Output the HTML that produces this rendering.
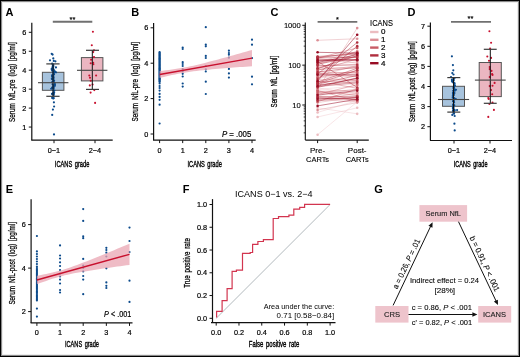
<!DOCTYPE html>
<html><head><meta charset="utf-8"><style>
html,body{margin:0;padding:0;background:#fff;}
body{width:520px;height:357px;overflow:hidden;position:relative;font-family:"Liberation Sans",sans-serif;}
.frame{position:absolute;left:0;top:0;width:520px;height:357px;box-sizing:border-box;border-style:solid;border-color:#000;border-width:1px 2px 2px 1px;}
svg{position:absolute;left:0;top:0;will-change:transform;}
.h{stroke:#000;stroke-width:0.2px;}
.x{word-spacing:1.2px;}
.t{stroke:#000;stroke-width:0.26px;word-spacing:1.6px;}
.g{stroke:#222;stroke-width:0.12px;}
.m{stroke:#000;stroke-width:0.12px;}
.u{stroke:#000;stroke-width:0.38px;word-spacing:1.4px;}
</style></head><body>
<svg width="520" height="357" viewBox="0 0 520 357" font-family="Liberation Sans, sans-serif"><text x="5.60" y="15.80" font-size="11" font-weight="bold">A</text>
<line x1="31.80" y1="22.80" x2="31.80" y2="140.20" stroke="#111" stroke-width="1.2"/>
<line x1="28.80" y1="127.05" x2="31.80" y2="127.05" stroke="#111" stroke-width="1"/>
<text x="26.40" y="129.65" font-size="7.3" class="h" text-anchor="end">1</text>
<line x1="28.80" y1="108.10" x2="31.80" y2="108.10" stroke="#111" stroke-width="1"/>
<text x="26.40" y="110.70" font-size="7.3" class="h" text-anchor="end">2</text>
<line x1="28.80" y1="89.15" x2="31.80" y2="89.15" stroke="#111" stroke-width="1"/>
<text x="26.40" y="91.75" font-size="7.3" class="h" text-anchor="end">3</text>
<line x1="28.80" y1="70.20" x2="31.80" y2="70.20" stroke="#111" stroke-width="1"/>
<text x="26.40" y="72.80" font-size="7.3" class="h" text-anchor="end">4</text>
<line x1="28.80" y1="51.25" x2="31.80" y2="51.25" stroke="#111" stroke-width="1"/>
<text x="26.40" y="53.85" font-size="7.3" class="h" text-anchor="end">5</text>
<line x1="28.80" y1="32.30" x2="31.80" y2="32.30" stroke="#111" stroke-width="1"/>
<text x="26.40" y="34.90" font-size="7.3" class="h" text-anchor="end">6</text>
<line x1="31.30" y1="140.20" x2="112.70" y2="140.20" stroke="#111" stroke-width="1.2"/>
<line x1="54.00" y1="140.20" x2="54.00" y2="143.20" stroke="#111" stroke-width="1"/>
<text x="54.00" y="152.70" font-size="7.3" class="h" text-anchor="middle">0−1</text>
<line x1="95.00" y1="140.20" x2="95.00" y2="143.20" stroke="#111" stroke-width="1"/>
<text x="95.00" y="152.70" font-size="7.3" class="h" text-anchor="middle">2−4</text>
<text x="14.70" y="82.05" font-size="8.4" text-anchor="middle" textLength="79.7" lengthAdjust="spacingAndGlyphs" transform="rotate(-90 14.70 82.05)" class="t">Serum NfL-pre (log) [pg/ml]</text>
<text x="72.10" y="166.50" font-size="8.8" text-anchor="middle" textLength="34.6" lengthAdjust="spacingAndGlyphs" class="u">ICANS grade</text>
<line x1="52.80" y1="21.80" x2="92.30" y2="21.80" stroke="#707070" stroke-width="1.9"/>
<text x="72.50" y="21.60" font-size="7.4" class="h" text-anchor="middle">**</text>
<rect x="42.40" y="72.30" width="21.50" height="18.00" fill="#a7c3dd" stroke="#555" stroke-width="1"/>
<circle cx="51.70" cy="53.80" r="1.1" fill="#0b4a8b"/>
<circle cx="52.60" cy="54.60" r="1.1" fill="#0b4a8b"/>
<circle cx="53.30" cy="58.40" r="1.1" fill="#0b4a8b"/>
<circle cx="50.00" cy="60.30" r="1.1" fill="#0b4a8b"/>
<circle cx="53.80" cy="60.90" r="1.1" fill="#0b4a8b"/>
<circle cx="55.40" cy="61.30" r="1.1" fill="#0b4a8b"/>
<circle cx="53.30" cy="64.70" r="1.1" fill="#0b4a8b"/>
<circle cx="52.50" cy="67.20" r="1.1" fill="#0b4a8b"/>
<circle cx="51.80" cy="69.70" r="1.1" fill="#0b4a8b"/>
<circle cx="54.60" cy="71.40" r="1.1" fill="#0b4a8b"/>
<circle cx="56.00" cy="72.30" r="1.1" fill="#0b4a8b"/>
<circle cx="53.30" cy="98.40" r="1.1" fill="#0b4a8b"/>
<circle cx="53.90" cy="102.30" r="1.1" fill="#0b4a8b"/>
<circle cx="54.10" cy="106.50" r="1.1" fill="#0b4a8b"/>
<circle cx="52.90" cy="109.60" r="1.1" fill="#0b4a8b"/>
<circle cx="52.20" cy="114.90" r="1.1" fill="#0b4a8b"/>
<circle cx="54.00" cy="134.40" r="1.1" fill="#0b4a8b"/>
<circle cx="52.17" cy="63.48" r="1.1" fill="#0b4a8b"/>
<circle cx="52.76" cy="64.90" r="1.1" fill="#0b4a8b"/>
<circle cx="53.13" cy="65.64" r="1.1" fill="#0b4a8b"/>
<circle cx="53.06" cy="66.76" r="1.1" fill="#0b4a8b"/>
<circle cx="53.29" cy="66.29" r="1.1" fill="#0b4a8b"/>
<circle cx="55.95" cy="67.41" r="1.1" fill="#0b4a8b"/>
<circle cx="51.73" cy="68.84" r="1.1" fill="#0b4a8b"/>
<circle cx="53.19" cy="68.16" r="1.1" fill="#0b4a8b"/>
<circle cx="53.74" cy="69.82" r="1.1" fill="#0b4a8b"/>
<circle cx="52.19" cy="70.73" r="1.1" fill="#0b4a8b"/>
<circle cx="54.40" cy="71.28" r="1.1" fill="#0b4a8b"/>
<circle cx="53.59" cy="71.81" r="1.1" fill="#0b4a8b"/>
<circle cx="54.77" cy="71.93" r="1.1" fill="#0b4a8b"/>
<circle cx="53.35" cy="72.97" r="1.1" fill="#0b4a8b"/>
<circle cx="54.03" cy="74.15" r="1.1" fill="#0b4a8b"/>
<circle cx="52.02" cy="75.25" r="1.1" fill="#0b4a8b"/>
<circle cx="53.31" cy="74.89" r="1.1" fill="#0b4a8b"/>
<circle cx="52.07" cy="76.67" r="1.1" fill="#0b4a8b"/>
<circle cx="53.40" cy="77.25" r="1.1" fill="#0b4a8b"/>
<circle cx="53.28" cy="76.62" r="1.1" fill="#0b4a8b"/>
<circle cx="51.84" cy="78.81" r="1.1" fill="#0b4a8b"/>
<circle cx="53.49" cy="78.17" r="1.1" fill="#0b4a8b"/>
<circle cx="52.37" cy="79.28" r="1.1" fill="#0b4a8b"/>
<circle cx="53.55" cy="80.13" r="1.1" fill="#0b4a8b"/>
<circle cx="54.12" cy="80.82" r="1.1" fill="#0b4a8b"/>
<circle cx="52.23" cy="82.20" r="1.1" fill="#0b4a8b"/>
<circle cx="54.34" cy="82.75" r="1.1" fill="#0b4a8b"/>
<circle cx="52.92" cy="82.06" r="1.1" fill="#0b4a8b"/>
<circle cx="54.90" cy="84.15" r="1.1" fill="#0b4a8b"/>
<circle cx="52.57" cy="84.26" r="1.1" fill="#0b4a8b"/>
<circle cx="53.41" cy="85.24" r="1.1" fill="#0b4a8b"/>
<circle cx="54.65" cy="85.66" r="1.1" fill="#0b4a8b"/>
<circle cx="54.63" cy="85.77" r="1.1" fill="#0b4a8b"/>
<circle cx="53.69" cy="87.88" r="1.1" fill="#0b4a8b"/>
<circle cx="53.29" cy="86.77" r="1.1" fill="#0b4a8b"/>
<circle cx="52.12" cy="87.59" r="1.1" fill="#0b4a8b"/>
<circle cx="53.22" cy="88.57" r="1.1" fill="#0b4a8b"/>
<circle cx="51.19" cy="88.76" r="1.1" fill="#0b4a8b"/>
<circle cx="54.38" cy="90.60" r="1.1" fill="#0b4a8b"/>
<circle cx="53.40" cy="90.72" r="1.1" fill="#0b4a8b"/>
<circle cx="54.06" cy="92.52" r="1.1" fill="#0b4a8b"/>
<circle cx="52.87" cy="93.45" r="1.1" fill="#0b4a8b"/>
<circle cx="54.08" cy="92.76" r="1.1" fill="#0b4a8b"/>
<circle cx="53.57" cy="92.90" r="1.1" fill="#0b4a8b"/>
<circle cx="51.97" cy="93.93" r="1.1" fill="#0b4a8b"/>
<circle cx="53.68" cy="94.54" r="1.1" fill="#0b4a8b"/>
<circle cx="53.53" cy="95.00" r="1.1" fill="#0b4a8b"/>
<circle cx="52.42" cy="97.53" r="1.1" fill="#0b4a8b"/>
<circle cx="52.28" cy="98.10" r="1.1" fill="#0b4a8b"/>
<circle cx="53.69" cy="98.04" r="1.1" fill="#0b4a8b"/>
<line x1="53.00" y1="63.90" x2="53.00" y2="96.30" stroke="#111" stroke-width="1"/>
<line x1="46.30" y1="63.90" x2="59.60" y2="63.90" stroke="#3a3a3a" stroke-width="1.2"/>
<line x1="46.30" y1="96.30" x2="59.60" y2="96.30" stroke="#3a3a3a" stroke-width="1.2"/>
<line x1="38.00" y1="82.70" x2="68.40" y2="82.70" stroke="#444" stroke-width="1.1"/>
<rect x="81.40" y="57.60" width="21.50" height="23.30" fill="#ebb6c1" stroke="#555" stroke-width="1"/>
<circle cx="92.90" cy="31.80" r="1.05" fill="#c8102e"/>
<circle cx="91.80" cy="45.30" r="1.05" fill="#c8102e"/>
<circle cx="94.00" cy="50.20" r="1.05" fill="#c8102e"/>
<circle cx="93.20" cy="52.10" r="1.05" fill="#c8102e"/>
<circle cx="94.00" cy="57.10" r="1.05" fill="#c8102e"/>
<circle cx="91.10" cy="59.80" r="1.05" fill="#c8102e"/>
<circle cx="93.20" cy="62.70" r="1.05" fill="#c8102e"/>
<circle cx="90.70" cy="63.20" r="1.05" fill="#c8102e"/>
<circle cx="93.40" cy="64.30" r="1.05" fill="#c8102e"/>
<circle cx="89.30" cy="75.50" r="1.05" fill="#c8102e"/>
<circle cx="96.10" cy="75.50" r="1.05" fill="#c8102e"/>
<circle cx="90.00" cy="77.80" r="1.05" fill="#c8102e"/>
<circle cx="90.70" cy="80.70" r="1.05" fill="#c8102e"/>
<circle cx="92.60" cy="84.50" r="1.05" fill="#c8102e"/>
<circle cx="89.80" cy="85.40" r="1.05" fill="#c8102e"/>
<circle cx="94.30" cy="90.10" r="1.05" fill="#c8102e"/>
<circle cx="90.60" cy="92.60" r="1.05" fill="#c8102e"/>
<circle cx="95.10" cy="102.90" r="1.05" fill="#c8102e"/>
<line x1="92.30" y1="50.30" x2="92.30" y2="89.40" stroke="#111" stroke-width="1"/>
<line x1="86.00" y1="50.30" x2="99.00" y2="50.30" stroke="#3a3a3a" stroke-width="1.2"/>
<line x1="86.00" y1="89.40" x2="99.00" y2="89.40" stroke="#3a3a3a" stroke-width="1.2"/>
<line x1="77.00" y1="70.30" x2="107.40" y2="70.30" stroke="#444" stroke-width="1.1"/>
<text x="131.30" y="15.80" font-size="11" font-weight="bold">B</text>
<line x1="153.60" y1="23.10" x2="153.60" y2="140.10" stroke="#111" stroke-width="1.2"/>
<line x1="150.60" y1="134.00" x2="153.60" y2="134.00" stroke="#111" stroke-width="1"/>
<text x="148.20" y="136.60" font-size="7.3" class="h" text-anchor="end">0</text>
<line x1="150.60" y1="98.60" x2="153.60" y2="98.60" stroke="#111" stroke-width="1"/>
<text x="148.20" y="101.20" font-size="7.3" class="h" text-anchor="end">2</text>
<line x1="150.60" y1="63.20" x2="153.60" y2="63.20" stroke="#111" stroke-width="1"/>
<text x="148.20" y="65.80" font-size="7.3" class="h" text-anchor="end">4</text>
<line x1="150.60" y1="27.80" x2="153.60" y2="27.80" stroke="#111" stroke-width="1"/>
<text x="148.20" y="30.40" font-size="7.3" class="h" text-anchor="end">6</text>
<line x1="153.00" y1="140.10" x2="255.70" y2="140.10" stroke="#111" stroke-width="1.2"/>
<line x1="159.60" y1="140.10" x2="159.60" y2="143.10" stroke="#111" stroke-width="1"/>
<text x="159.60" y="152.70" font-size="7.3" class="h" text-anchor="middle">0</text>
<line x1="182.70" y1="140.10" x2="182.70" y2="143.10" stroke="#111" stroke-width="1"/>
<text x="182.70" y="152.70" font-size="7.3" class="h" text-anchor="middle">1</text>
<line x1="205.80" y1="140.10" x2="205.80" y2="143.10" stroke="#111" stroke-width="1"/>
<text x="205.80" y="152.70" font-size="7.3" class="h" text-anchor="middle">2</text>
<line x1="228.90" y1="140.10" x2="228.90" y2="143.10" stroke="#111" stroke-width="1"/>
<text x="228.90" y="152.70" font-size="7.3" class="h" text-anchor="middle">3</text>
<line x1="252.00" y1="140.10" x2="252.00" y2="143.10" stroke="#111" stroke-width="1"/>
<text x="252.00" y="152.70" font-size="7.3" class="h" text-anchor="middle">4</text>
<text x="138.10" y="81.65" font-size="8.4" text-anchor="middle" textLength="79.5" lengthAdjust="spacingAndGlyphs" transform="rotate(-90 138.10 81.65)" class="t">Serum NfL-pre (log) [pg/ml]</text>
<text x="204.65" y="166.50" font-size="8.8" text-anchor="middle" textLength="34.3" lengthAdjust="spacingAndGlyphs" class="u">ICANS grade</text>
<text x="251.30" y="136.70" font-size="8.3" class="h" text-anchor="end" textLength="29.4" lengthAdjust="spacingAndGlyphs"><tspan font-style="italic">P</tspan> = .005</text>
<circle cx="159.60" cy="52.00" r="1.1" fill="#0b4a8b"/>
<circle cx="159.60" cy="52.77" r="1.1" fill="#0b4a8b"/>
<circle cx="159.60" cy="53.54" r="1.1" fill="#0b4a8b"/>
<circle cx="159.60" cy="54.31" r="1.1" fill="#0b4a8b"/>
<circle cx="159.60" cy="55.08" r="1.1" fill="#0b4a8b"/>
<circle cx="159.60" cy="55.85" r="1.1" fill="#0b4a8b"/>
<circle cx="159.60" cy="56.62" r="1.1" fill="#0b4a8b"/>
<circle cx="159.60" cy="57.38" r="1.1" fill="#0b4a8b"/>
<circle cx="159.60" cy="58.15" r="1.1" fill="#0b4a8b"/>
<circle cx="159.60" cy="58.92" r="1.1" fill="#0b4a8b"/>
<circle cx="159.60" cy="59.69" r="1.1" fill="#0b4a8b"/>
<circle cx="159.60" cy="60.46" r="1.1" fill="#0b4a8b"/>
<circle cx="159.60" cy="61.23" r="1.1" fill="#0b4a8b"/>
<circle cx="159.60" cy="62.00" r="1.1" fill="#0b4a8b"/>
<circle cx="159.60" cy="62.77" r="1.1" fill="#0b4a8b"/>
<circle cx="159.60" cy="63.54" r="1.1" fill="#0b4a8b"/>
<circle cx="159.60" cy="64.31" r="1.1" fill="#0b4a8b"/>
<circle cx="159.60" cy="65.08" r="1.1" fill="#0b4a8b"/>
<circle cx="159.60" cy="65.85" r="1.1" fill="#0b4a8b"/>
<circle cx="159.60" cy="66.62" r="1.1" fill="#0b4a8b"/>
<circle cx="159.60" cy="67.38" r="1.1" fill="#0b4a8b"/>
<circle cx="159.60" cy="68.15" r="1.1" fill="#0b4a8b"/>
<circle cx="159.60" cy="68.92" r="1.1" fill="#0b4a8b"/>
<circle cx="159.60" cy="69.69" r="1.1" fill="#0b4a8b"/>
<circle cx="159.60" cy="70.46" r="1.1" fill="#0b4a8b"/>
<circle cx="159.60" cy="71.23" r="1.1" fill="#0b4a8b"/>
<circle cx="159.60" cy="72.00" r="1.1" fill="#0b4a8b"/>
<circle cx="159.60" cy="72.77" r="1.1" fill="#0b4a8b"/>
<circle cx="159.60" cy="73.54" r="1.1" fill="#0b4a8b"/>
<circle cx="159.60" cy="74.31" r="1.1" fill="#0b4a8b"/>
<circle cx="159.60" cy="75.08" r="1.1" fill="#0b4a8b"/>
<circle cx="159.60" cy="75.85" r="1.1" fill="#0b4a8b"/>
<circle cx="159.60" cy="76.62" r="1.1" fill="#0b4a8b"/>
<circle cx="159.60" cy="77.38" r="1.1" fill="#0b4a8b"/>
<circle cx="159.60" cy="78.15" r="1.1" fill="#0b4a8b"/>
<circle cx="159.60" cy="78.92" r="1.1" fill="#0b4a8b"/>
<circle cx="159.60" cy="79.69" r="1.1" fill="#0b4a8b"/>
<circle cx="159.60" cy="80.46" r="1.1" fill="#0b4a8b"/>
<circle cx="159.60" cy="81.23" r="1.1" fill="#0b4a8b"/>
<circle cx="159.60" cy="82.00" r="1.1" fill="#0b4a8b"/>
<circle cx="159.60" cy="83.50" r="1.1" fill="#0b4a8b"/>
<circle cx="159.60" cy="86.00" r="1.1" fill="#0b4a8b"/>
<circle cx="159.60" cy="88.00" r="1.1" fill="#0b4a8b"/>
<circle cx="159.60" cy="90.60" r="1.1" fill="#0b4a8b"/>
<circle cx="159.60" cy="93.90" r="1.1" fill="#0b4a8b"/>
<circle cx="159.60" cy="96.90" r="1.1" fill="#0b4a8b"/>
<circle cx="159.60" cy="99.80" r="1.1" fill="#0b4a8b"/>
<circle cx="159.60" cy="104.70" r="1.1" fill="#0b4a8b"/>
<circle cx="159.60" cy="123.50" r="1.1" fill="#0b4a8b"/>
<circle cx="182.70" cy="47.50" r="1.1" fill="#0b4a8b"/>
<circle cx="182.70" cy="49.00" r="1.1" fill="#0b4a8b"/>
<circle cx="182.70" cy="62.20" r="1.1" fill="#0b4a8b"/>
<circle cx="182.70" cy="64.00" r="1.1" fill="#0b4a8b"/>
<circle cx="182.70" cy="66.00" r="1.1" fill="#0b4a8b"/>
<circle cx="182.70" cy="69.00" r="1.1" fill="#0b4a8b"/>
<circle cx="182.70" cy="71.50" r="1.1" fill="#0b4a8b"/>
<circle cx="182.70" cy="73.80" r="1.1" fill="#0b4a8b"/>
<circle cx="182.70" cy="76.50" r="1.1" fill="#0b4a8b"/>
<circle cx="182.70" cy="83.50" r="1.1" fill="#0b4a8b"/>
<circle cx="182.70" cy="86.60" r="1.1" fill="#0b4a8b"/>
<circle cx="205.80" cy="27.20" r="1.1" fill="#0b4a8b"/>
<circle cx="205.80" cy="44.70" r="1.1" fill="#0b4a8b"/>
<circle cx="205.80" cy="46.30" r="1.1" fill="#0b4a8b"/>
<circle cx="205.80" cy="55.90" r="1.1" fill="#0b4a8b"/>
<circle cx="205.80" cy="58.00" r="1.1" fill="#0b4a8b"/>
<circle cx="205.80" cy="66.00" r="1.1" fill="#0b4a8b"/>
<circle cx="205.80" cy="69.30" r="1.1" fill="#0b4a8b"/>
<circle cx="205.80" cy="71.50" r="1.1" fill="#0b4a8b"/>
<circle cx="205.80" cy="81.70" r="1.1" fill="#0b4a8b"/>
<circle cx="205.80" cy="94.00" r="1.1" fill="#0b4a8b"/>
<circle cx="228.90" cy="50.70" r="1.1" fill="#0b4a8b"/>
<circle cx="228.90" cy="53.00" r="1.1" fill="#0b4a8b"/>
<circle cx="228.90" cy="54.70" r="1.1" fill="#0b4a8b"/>
<circle cx="228.90" cy="57.70" r="1.1" fill="#0b4a8b"/>
<circle cx="228.90" cy="68.90" r="1.1" fill="#0b4a8b"/>
<circle cx="228.90" cy="73.40" r="1.1" fill="#0b4a8b"/>
<circle cx="228.90" cy="77.60" r="1.1" fill="#0b4a8b"/>
<circle cx="252.00" cy="39.70" r="1.1" fill="#0b4a8b"/>
<circle cx="252.00" cy="44.70" r="1.1" fill="#0b4a8b"/>
<circle cx="252.00" cy="58.10" r="1.1" fill="#0b4a8b"/>
<circle cx="252.00" cy="76.70" r="1.1" fill="#0b4a8b"/>
<circle cx="252.00" cy="84.30" r="1.1" fill="#0b4a8b"/>
<path d="M159.60,71.10 L162.68,70.73 L165.76,70.35 L168.84,69.95 L171.92,69.52 L175.00,69.07 L178.08,68.58 L181.16,68.07 L184.24,67.52 L187.32,66.93 L190.40,66.30 L193.48,65.63 L196.56,64.92 L199.64,64.19 L202.72,63.43 L205.80,62.65 L208.88,61.86 L211.96,61.05 L215.04,60.24 L218.12,59.41 L221.20,58.57 L224.28,57.73 L227.36,56.89 L230.44,56.04 L233.52,55.18 L236.60,54.32 L239.68,53.46 L242.76,52.60 L245.84,51.74 L248.92,50.87 L252.00,50.00 L252.00,66.20 L248.92,66.42 L245.84,66.65 L242.76,66.88 L239.68,67.11 L236.60,67.34 L233.52,67.58 L230.44,67.82 L227.36,68.06 L224.28,68.31 L221.20,68.56 L218.12,68.82 L215.04,69.08 L211.96,69.36 L208.88,69.65 L205.80,69.95 L202.72,70.26 L199.64,70.60 L196.56,70.96 L193.48,71.35 L190.40,71.77 L187.32,72.23 L184.24,72.73 L181.16,73.28 L178.08,73.86 L175.00,74.47 L171.92,75.11 L168.84,75.77 L165.76,76.46 L162.68,77.17 L159.60,77.90 Z" fill="#e9a6b3" fill-opacity="0.75"/>
<line x1="159.60" y1="74.50" x2="252.00" y2="58.10" stroke="#c8102e" stroke-width="1.4"/>
<text x="270.50" y="15.80" font-size="11" font-weight="bold">C</text>
<line x1="305.30" y1="22.40" x2="305.30" y2="140.10" stroke="#111" stroke-width="1.1"/>
<line x1="303.70" y1="132.85" x2="305.30" y2="132.85" stroke="#111" stroke-width="0.8"/>
<line x1="303.70" y1="125.84" x2="305.30" y2="125.84" stroke="#111" stroke-width="0.8"/>
<line x1="303.70" y1="120.86" x2="305.30" y2="120.86" stroke="#111" stroke-width="0.8"/>
<line x1="303.70" y1="117.00" x2="305.30" y2="117.00" stroke="#111" stroke-width="0.8"/>
<line x1="303.70" y1="113.84" x2="305.30" y2="113.84" stroke="#111" stroke-width="0.8"/>
<line x1="303.70" y1="111.17" x2="305.30" y2="111.17" stroke="#111" stroke-width="0.8"/>
<line x1="303.70" y1="108.86" x2="305.30" y2="108.86" stroke="#111" stroke-width="0.8"/>
<line x1="303.70" y1="106.82" x2="305.30" y2="106.82" stroke="#111" stroke-width="0.8"/>
<line x1="302.30" y1="105.00" x2="305.30" y2="105.00" stroke="#111" stroke-width="1"/>
<line x1="303.70" y1="93.00" x2="305.30" y2="93.00" stroke="#111" stroke-width="0.8"/>
<line x1="303.70" y1="85.99" x2="305.30" y2="85.99" stroke="#111" stroke-width="0.8"/>
<line x1="303.70" y1="81.01" x2="305.30" y2="81.01" stroke="#111" stroke-width="0.8"/>
<line x1="303.70" y1="77.15" x2="305.30" y2="77.15" stroke="#111" stroke-width="0.8"/>
<line x1="303.70" y1="73.99" x2="305.30" y2="73.99" stroke="#111" stroke-width="0.8"/>
<line x1="303.70" y1="71.32" x2="305.30" y2="71.32" stroke="#111" stroke-width="0.8"/>
<line x1="303.70" y1="69.01" x2="305.30" y2="69.01" stroke="#111" stroke-width="0.8"/>
<line x1="303.70" y1="66.97" x2="305.30" y2="66.97" stroke="#111" stroke-width="0.8"/>
<line x1="302.30" y1="65.15" x2="305.30" y2="65.15" stroke="#111" stroke-width="1"/>
<line x1="303.70" y1="53.15" x2="305.30" y2="53.15" stroke="#111" stroke-width="0.8"/>
<line x1="303.70" y1="46.14" x2="305.30" y2="46.14" stroke="#111" stroke-width="0.8"/>
<line x1="303.70" y1="41.16" x2="305.30" y2="41.16" stroke="#111" stroke-width="0.8"/>
<line x1="303.70" y1="37.30" x2="305.30" y2="37.30" stroke="#111" stroke-width="0.8"/>
<line x1="303.70" y1="34.14" x2="305.30" y2="34.14" stroke="#111" stroke-width="0.8"/>
<line x1="303.70" y1="31.47" x2="305.30" y2="31.47" stroke="#111" stroke-width="0.8"/>
<line x1="303.70" y1="29.16" x2="305.30" y2="29.16" stroke="#111" stroke-width="0.8"/>
<line x1="303.70" y1="27.12" x2="305.30" y2="27.12" stroke="#111" stroke-width="0.8"/>
<line x1="302.30" y1="25.30" x2="305.30" y2="25.30" stroke="#111" stroke-width="1"/>
<text x="300.80" y="107.60" font-size="7.6" text-anchor="end" class="m">10</text>
<text x="300.80" y="67.75" font-size="7.6" text-anchor="end" class="m">100</text>
<text x="300.80" y="27.90" font-size="7.6" text-anchor="end" class="m">1000</text>
<line x1="305.30" y1="140.10" x2="368.80" y2="140.10" stroke="#111" stroke-width="1.1"/>
<line x1="317.60" y1="140.10" x2="317.60" y2="143.10" stroke="#111" stroke-width="1"/>
<line x1="357.20" y1="140.10" x2="357.20" y2="143.10" stroke="#111" stroke-width="1"/>
<text x="317.60" y="152.70" font-size="8" text-anchor="middle" class="m">Pre-</text>
<text x="317.60" y="161.90" font-size="8" text-anchor="middle" textLength="23" lengthAdjust="spacingAndGlyphs" class="m">CARTs</text>
<text x="357.20" y="152.70" font-size="8" text-anchor="middle" class="m">Post-</text>
<text x="357.20" y="161.90" font-size="8" text-anchor="middle" textLength="23" lengthAdjust="spacingAndGlyphs" class="m">CARTs</text>
<text x="277.40" y="81.60" font-size="8.4" text-anchor="middle" textLength="51.6" lengthAdjust="spacingAndGlyphs" transform="rotate(-90 277.40 81.60)" class="t">Serum NfL [pg/ml]</text>
<line x1="317.60" y1="21.90" x2="357.30" y2="21.90" stroke="#707070" stroke-width="1.9"/>
<text x="337.40" y="21.60" font-size="7.4" class="h" text-anchor="middle">*</text>
<line x1="317.60" y1="134.68" x2="357.20" y2="101.84" stroke="#ecbcc0" stroke-width="0.65" stroke-opacity="0.6"/>
<line x1="317.60" y1="112.46" x2="357.20" y2="100.46" stroke="#ecbcc0" stroke-width="0.65" stroke-opacity="0.6"/>
<line x1="317.60" y1="117.00" x2="357.20" y2="107.81" stroke="#ecbcc0" stroke-width="0.65" stroke-opacity="0.6"/>
<line x1="317.60" y1="107.81" x2="357.20" y2="113.84" stroke="#ecbcc0" stroke-width="0.65" stroke-opacity="0.6"/>
<line x1="317.60" y1="95.62" x2="357.20" y2="98.78" stroke="#ecbcc0" stroke-width="0.65" stroke-opacity="0.6"/>
<line x1="317.60" y1="92.28" x2="357.20" y2="94.53" stroke="#ecbcc0" stroke-width="0.65" stroke-opacity="0.6"/>
<line x1="317.60" y1="89.97" x2="357.20" y2="90.94" stroke="#ecbcc0" stroke-width="0.65" stroke-opacity="0.6"/>
<line x1="317.60" y1="89.38" x2="357.20" y2="86.01" stroke="#ecbcc0" stroke-width="0.65" stroke-opacity="0.6"/>
<line x1="317.60" y1="87.95" x2="357.20" y2="94.07" stroke="#ecbcc0" stroke-width="0.65" stroke-opacity="0.6"/>
<line x1="317.60" y1="85.72" x2="357.20" y2="69.56" stroke="#ecbcc0" stroke-width="0.65" stroke-opacity="0.6"/>
<line x1="317.60" y1="80.03" x2="357.20" y2="85.21" stroke="#ecbcc0" stroke-width="0.65" stroke-opacity="0.6"/>
<line x1="317.60" y1="78.49" x2="357.20" y2="83.61" stroke="#ecbcc0" stroke-width="0.65" stroke-opacity="0.6"/>
<line x1="317.60" y1="78.10" x2="357.20" y2="73.42" stroke="#ecbcc0" stroke-width="0.65" stroke-opacity="0.6"/>
<line x1="317.60" y1="76.72" x2="357.20" y2="80.87" stroke="#ecbcc0" stroke-width="0.65" stroke-opacity="0.6"/>
<line x1="317.60" y1="66.92" x2="357.20" y2="64.06" stroke="#ecbcc0" stroke-width="0.65" stroke-opacity="0.6"/>
<line x1="317.60" y1="66.64" x2="357.20" y2="61.69" stroke="#ecbcc0" stroke-width="0.65" stroke-opacity="0.6"/>
<line x1="317.60" y1="40.31" x2="357.20" y2="38.74" stroke="#dc8f96" stroke-width="0.65" stroke-opacity="0.62"/>
<line x1="317.60" y1="89.14" x2="357.20" y2="28.11" stroke="#dc8f96" stroke-width="0.65" stroke-opacity="0.62"/>
<line x1="317.60" y1="109.98" x2="357.20" y2="102.58" stroke="#dc8f96" stroke-width="0.65" stroke-opacity="0.62"/>
<line x1="317.60" y1="102.58" x2="357.20" y2="96.87" stroke="#dc8f96" stroke-width="0.65" stroke-opacity="0.62"/>
<line x1="317.60" y1="99.92" x2="357.20" y2="93.24" stroke="#dc8f96" stroke-width="0.65" stroke-opacity="0.62"/>
<line x1="317.60" y1="99.30" x2="357.20" y2="101.98" stroke="#dc8f96" stroke-width="0.65" stroke-opacity="0.62"/>
<line x1="317.60" y1="96.35" x2="357.20" y2="100.49" stroke="#dc8f96" stroke-width="0.65" stroke-opacity="0.62"/>
<line x1="317.60" y1="93.53" x2="357.20" y2="92.26" stroke="#dc8f96" stroke-width="0.65" stroke-opacity="0.62"/>
<line x1="317.60" y1="79.80" x2="357.20" y2="79.18" stroke="#dc8f96" stroke-width="0.65" stroke-opacity="0.62"/>
<line x1="317.60" y1="75.88" x2="357.20" y2="65.44" stroke="#dc8f96" stroke-width="0.65" stroke-opacity="0.62"/>
<line x1="317.60" y1="75.37" x2="357.20" y2="76.76" stroke="#dc8f96" stroke-width="0.65" stroke-opacity="0.62"/>
<line x1="317.60" y1="71.70" x2="357.20" y2="73.18" stroke="#dc8f96" stroke-width="0.65" stroke-opacity="0.62"/>
<line x1="317.60" y1="67.76" x2="357.20" y2="68.43" stroke="#dc8f96" stroke-width="0.65" stroke-opacity="0.62"/>
<line x1="317.60" y1="64.66" x2="357.20" y2="51.07" stroke="#dc8f96" stroke-width="0.65" stroke-opacity="0.62"/>
<line x1="317.60" y1="62.04" x2="357.20" y2="51.67" stroke="#dc8f96" stroke-width="0.65" stroke-opacity="0.62"/>
<line x1="317.60" y1="58.68" x2="357.20" y2="63.00" stroke="#dc8f96" stroke-width="0.65" stroke-opacity="0.62"/>
<line x1="317.60" y1="58.40" x2="357.20" y2="60.78" stroke="#dc8f96" stroke-width="0.65" stroke-opacity="0.62"/>
<line x1="317.60" y1="58.13" x2="357.20" y2="47.96" stroke="#c85c66" stroke-width="0.65" stroke-opacity="0.68"/>
<line x1="317.60" y1="101.72" x2="357.20" y2="88.95" stroke="#c85c66" stroke-width="0.65" stroke-opacity="0.68"/>
<line x1="317.60" y1="94.53" x2="357.20" y2="84.71" stroke="#c85c66" stroke-width="0.65" stroke-opacity="0.68"/>
<line x1="317.60" y1="92.64" x2="357.20" y2="89.54" stroke="#c85c66" stroke-width="0.65" stroke-opacity="0.68"/>
<line x1="317.60" y1="91.02" x2="357.20" y2="95.43" stroke="#c85c66" stroke-width="0.65" stroke-opacity="0.68"/>
<line x1="317.60" y1="90.70" x2="357.20" y2="100.91" stroke="#c85c66" stroke-width="0.65" stroke-opacity="0.68"/>
<line x1="317.60" y1="81.82" x2="357.20" y2="80.50" stroke="#c85c66" stroke-width="0.65" stroke-opacity="0.68"/>
<line x1="317.60" y1="81.25" x2="357.20" y2="88.28" stroke="#c85c66" stroke-width="0.65" stroke-opacity="0.68"/>
<line x1="317.60" y1="77.30" x2="357.20" y2="70.97" stroke="#c85c66" stroke-width="0.65" stroke-opacity="0.68"/>
<line x1="317.60" y1="73.41" x2="357.20" y2="72.42" stroke="#c85c66" stroke-width="0.65" stroke-opacity="0.68"/>
<line x1="317.60" y1="73.14" x2="357.20" y2="76.25" stroke="#c85c66" stroke-width="0.65" stroke-opacity="0.68"/>
<line x1="317.60" y1="70.41" x2="357.20" y2="58.89" stroke="#c85c66" stroke-width="0.65" stroke-opacity="0.68"/>
<line x1="317.60" y1="69.73" x2="357.20" y2="66.38" stroke="#c85c66" stroke-width="0.65" stroke-opacity="0.68"/>
<line x1="317.60" y1="69.10" x2="357.20" y2="53.38" stroke="#c85c66" stroke-width="0.65" stroke-opacity="0.68"/>
<line x1="317.60" y1="63.12" x2="357.20" y2="56.99" stroke="#c85c66" stroke-width="0.65" stroke-opacity="0.68"/>
<line x1="317.60" y1="56.48" x2="357.20" y2="54.04" stroke="#b02e3e" stroke-width="0.65" stroke-opacity="0.72"/>
<line x1="317.60" y1="73.99" x2="357.20" y2="42.51" stroke="#b02e3e" stroke-width="0.65" stroke-opacity="0.72"/>
<line x1="317.60" y1="78.97" x2="357.20" y2="46.14" stroke="#b02e3e" stroke-width="0.65" stroke-opacity="0.72"/>
<line x1="317.60" y1="100.61" x2="357.20" y2="97.38" stroke="#b02e3e" stroke-width="0.65" stroke-opacity="0.72"/>
<line x1="317.60" y1="97.61" x2="357.20" y2="99.66" stroke="#b02e3e" stroke-width="0.65" stroke-opacity="0.72"/>
<line x1="317.60" y1="96.86" x2="357.20" y2="96.22" stroke="#b02e3e" stroke-width="0.65" stroke-opacity="0.72"/>
<line x1="317.60" y1="87.40" x2="357.20" y2="77.84" stroke="#b02e3e" stroke-width="0.65" stroke-opacity="0.72"/>
<line x1="317.60" y1="86.57" x2="357.20" y2="82.78" stroke="#b02e3e" stroke-width="0.65" stroke-opacity="0.72"/>
<line x1="317.60" y1="84.78" x2="357.20" y2="81.76" stroke="#b02e3e" stroke-width="0.65" stroke-opacity="0.72"/>
<line x1="317.60" y1="83.92" x2="357.20" y2="75.51" stroke="#b02e3e" stroke-width="0.65" stroke-opacity="0.72"/>
<line x1="317.60" y1="83.47" x2="357.20" y2="70.16" stroke="#b02e3e" stroke-width="0.65" stroke-opacity="0.72"/>
<line x1="317.60" y1="82.13" x2="357.20" y2="68.25" stroke="#b02e3e" stroke-width="0.65" stroke-opacity="0.72"/>
<line x1="317.60" y1="72.01" x2="357.20" y2="67.24" stroke="#b02e3e" stroke-width="0.65" stroke-opacity="0.72"/>
<line x1="317.60" y1="68.36" x2="357.20" y2="55.73" stroke="#b02e3e" stroke-width="0.65" stroke-opacity="0.72"/>
<line x1="317.60" y1="65.65" x2="357.20" y2="64.81" stroke="#b02e3e" stroke-width="0.65" stroke-opacity="0.72"/>
<line x1="317.60" y1="64.38" x2="357.20" y2="55.98" stroke="#b02e3e" stroke-width="0.65" stroke-opacity="0.72"/>
<line x1="317.60" y1="61.34" x2="357.20" y2="87.47" stroke="#b02e3e" stroke-width="0.65" stroke-opacity="0.72"/>
<line x1="317.60" y1="57.93" x2="357.20" y2="52.58" stroke="#b02e3e" stroke-width="0.65" stroke-opacity="0.72"/>
<line x1="317.60" y1="57.15" x2="357.20" y2="57.46" stroke="#b02e3e" stroke-width="0.65" stroke-opacity="0.72"/>
<line x1="317.60" y1="52.31" x2="357.20" y2="53.15" stroke="#980c24" stroke-width="0.65" stroke-opacity="0.8"/>
<line x1="317.60" y1="81.01" x2="357.20" y2="34.73" stroke="#980c24" stroke-width="0.65" stroke-opacity="0.8"/>
<line x1="317.60" y1="105.89" x2="357.20" y2="99.18" stroke="#980c24" stroke-width="0.65" stroke-opacity="0.8"/>
<line x1="317.60" y1="98.76" x2="357.20" y2="97.77" stroke="#980c24" stroke-width="0.65" stroke-opacity="0.8"/>
<line x1="317.60" y1="95.09" x2="357.20" y2="90.58" stroke="#980c24" stroke-width="0.65" stroke-opacity="0.8"/>
<line x1="317.60" y1="86.03" x2="357.20" y2="78.36" stroke="#980c24" stroke-width="0.65" stroke-opacity="0.8"/>
<line x1="317.60" y1="74.75" x2="357.20" y2="74.78" stroke="#980c24" stroke-width="0.65" stroke-opacity="0.8"/>
<line x1="317.60" y1="62.42" x2="357.20" y2="54.74" stroke="#980c24" stroke-width="0.65" stroke-opacity="0.8"/>
<line x1="317.60" y1="60.54" x2="357.20" y2="60.15" stroke="#980c24" stroke-width="0.65" stroke-opacity="0.8"/>
<line x1="317.60" y1="59.86" x2="357.20" y2="59.53" stroke="#980c24" stroke-width="0.65" stroke-opacity="0.8"/>
<circle cx="317.60" cy="134.68" r="1.3" fill="#ecbcc0"/>
<circle cx="357.20" cy="101.84" r="1.3" fill="#ecbcc0"/>
<circle cx="317.60" cy="112.46" r="1.3" fill="#ecbcc0"/>
<circle cx="357.20" cy="100.46" r="1.3" fill="#ecbcc0"/>
<circle cx="317.60" cy="117.00" r="1.3" fill="#ecbcc0"/>
<circle cx="357.20" cy="107.81" r="1.3" fill="#ecbcc0"/>
<circle cx="317.60" cy="107.81" r="1.3" fill="#ecbcc0"/>
<circle cx="357.20" cy="113.84" r="1.3" fill="#ecbcc0"/>
<circle cx="317.60" cy="95.62" r="1.3" fill="#ecbcc0"/>
<circle cx="357.20" cy="98.78" r="1.3" fill="#ecbcc0"/>
<circle cx="317.60" cy="92.28" r="1.3" fill="#ecbcc0"/>
<circle cx="357.20" cy="94.53" r="1.3" fill="#ecbcc0"/>
<circle cx="317.60" cy="89.97" r="1.3" fill="#ecbcc0"/>
<circle cx="357.20" cy="90.94" r="1.3" fill="#ecbcc0"/>
<circle cx="317.60" cy="89.38" r="1.3" fill="#ecbcc0"/>
<circle cx="357.20" cy="86.01" r="1.3" fill="#ecbcc0"/>
<circle cx="317.60" cy="87.95" r="1.3" fill="#ecbcc0"/>
<circle cx="357.20" cy="94.07" r="1.3" fill="#ecbcc0"/>
<circle cx="317.60" cy="85.72" r="1.3" fill="#ecbcc0"/>
<circle cx="357.20" cy="69.56" r="1.3" fill="#ecbcc0"/>
<circle cx="317.60" cy="80.03" r="1.3" fill="#ecbcc0"/>
<circle cx="357.20" cy="85.21" r="1.3" fill="#ecbcc0"/>
<circle cx="317.60" cy="78.49" r="1.3" fill="#ecbcc0"/>
<circle cx="357.20" cy="83.61" r="1.3" fill="#ecbcc0"/>
<circle cx="317.60" cy="78.10" r="1.3" fill="#ecbcc0"/>
<circle cx="357.20" cy="73.42" r="1.3" fill="#ecbcc0"/>
<circle cx="317.60" cy="76.72" r="1.3" fill="#ecbcc0"/>
<circle cx="357.20" cy="80.87" r="1.3" fill="#ecbcc0"/>
<circle cx="317.60" cy="66.92" r="1.3" fill="#ecbcc0"/>
<circle cx="357.20" cy="64.06" r="1.3" fill="#ecbcc0"/>
<circle cx="317.60" cy="66.64" r="1.3" fill="#ecbcc0"/>
<circle cx="357.20" cy="61.69" r="1.3" fill="#ecbcc0"/>
<circle cx="317.60" cy="40.31" r="1.3" fill="#dc8f96"/>
<circle cx="357.20" cy="38.74" r="1.3" fill="#dc8f96"/>
<circle cx="317.60" cy="89.14" r="1.3" fill="#dc8f96"/>
<circle cx="357.20" cy="28.11" r="1.3" fill="#dc8f96"/>
<circle cx="317.60" cy="109.98" r="1.3" fill="#dc8f96"/>
<circle cx="357.20" cy="102.58" r="1.3" fill="#dc8f96"/>
<circle cx="317.60" cy="102.58" r="1.3" fill="#dc8f96"/>
<circle cx="357.20" cy="96.87" r="1.3" fill="#dc8f96"/>
<circle cx="317.60" cy="99.92" r="1.3" fill="#dc8f96"/>
<circle cx="357.20" cy="93.24" r="1.3" fill="#dc8f96"/>
<circle cx="317.60" cy="99.30" r="1.3" fill="#dc8f96"/>
<circle cx="357.20" cy="101.98" r="1.3" fill="#dc8f96"/>
<circle cx="317.60" cy="96.35" r="1.3" fill="#dc8f96"/>
<circle cx="357.20" cy="100.49" r="1.3" fill="#dc8f96"/>
<circle cx="317.60" cy="93.53" r="1.3" fill="#dc8f96"/>
<circle cx="357.20" cy="92.26" r="1.3" fill="#dc8f96"/>
<circle cx="317.60" cy="79.80" r="1.3" fill="#dc8f96"/>
<circle cx="357.20" cy="79.18" r="1.3" fill="#dc8f96"/>
<circle cx="317.60" cy="75.88" r="1.3" fill="#dc8f96"/>
<circle cx="357.20" cy="65.44" r="1.3" fill="#dc8f96"/>
<circle cx="317.60" cy="75.37" r="1.3" fill="#dc8f96"/>
<circle cx="357.20" cy="76.76" r="1.3" fill="#dc8f96"/>
<circle cx="317.60" cy="71.70" r="1.3" fill="#dc8f96"/>
<circle cx="357.20" cy="73.18" r="1.3" fill="#dc8f96"/>
<circle cx="317.60" cy="67.76" r="1.3" fill="#dc8f96"/>
<circle cx="357.20" cy="68.43" r="1.3" fill="#dc8f96"/>
<circle cx="317.60" cy="64.66" r="1.3" fill="#dc8f96"/>
<circle cx="357.20" cy="51.07" r="1.3" fill="#dc8f96"/>
<circle cx="317.60" cy="62.04" r="1.3" fill="#dc8f96"/>
<circle cx="357.20" cy="51.67" r="1.3" fill="#dc8f96"/>
<circle cx="317.60" cy="58.68" r="1.3" fill="#dc8f96"/>
<circle cx="357.20" cy="63.00" r="1.3" fill="#dc8f96"/>
<circle cx="317.60" cy="58.40" r="1.3" fill="#dc8f96"/>
<circle cx="357.20" cy="60.78" r="1.3" fill="#dc8f96"/>
<circle cx="317.60" cy="58.13" r="1.3" fill="#c85c66"/>
<circle cx="357.20" cy="47.96" r="1.3" fill="#c85c66"/>
<circle cx="317.60" cy="101.72" r="1.3" fill="#c85c66"/>
<circle cx="357.20" cy="88.95" r="1.3" fill="#c85c66"/>
<circle cx="317.60" cy="94.53" r="1.3" fill="#c85c66"/>
<circle cx="357.20" cy="84.71" r="1.3" fill="#c85c66"/>
<circle cx="317.60" cy="92.64" r="1.3" fill="#c85c66"/>
<circle cx="357.20" cy="89.54" r="1.3" fill="#c85c66"/>
<circle cx="317.60" cy="91.02" r="1.3" fill="#c85c66"/>
<circle cx="357.20" cy="95.43" r="1.3" fill="#c85c66"/>
<circle cx="317.60" cy="90.70" r="1.3" fill="#c85c66"/>
<circle cx="357.20" cy="100.91" r="1.3" fill="#c85c66"/>
<circle cx="317.60" cy="81.82" r="1.3" fill="#c85c66"/>
<circle cx="357.20" cy="80.50" r="1.3" fill="#c85c66"/>
<circle cx="317.60" cy="81.25" r="1.3" fill="#c85c66"/>
<circle cx="357.20" cy="88.28" r="1.3" fill="#c85c66"/>
<circle cx="317.60" cy="77.30" r="1.3" fill="#c85c66"/>
<circle cx="357.20" cy="70.97" r="1.3" fill="#c85c66"/>
<circle cx="317.60" cy="73.41" r="1.3" fill="#c85c66"/>
<circle cx="357.20" cy="72.42" r="1.3" fill="#c85c66"/>
<circle cx="317.60" cy="73.14" r="1.3" fill="#c85c66"/>
<circle cx="357.20" cy="76.25" r="1.3" fill="#c85c66"/>
<circle cx="317.60" cy="70.41" r="1.3" fill="#c85c66"/>
<circle cx="357.20" cy="58.89" r="1.3" fill="#c85c66"/>
<circle cx="317.60" cy="69.73" r="1.3" fill="#c85c66"/>
<circle cx="357.20" cy="66.38" r="1.3" fill="#c85c66"/>
<circle cx="317.60" cy="69.10" r="1.3" fill="#c85c66"/>
<circle cx="357.20" cy="53.38" r="1.3" fill="#c85c66"/>
<circle cx="317.60" cy="63.12" r="1.3" fill="#c85c66"/>
<circle cx="357.20" cy="56.99" r="1.3" fill="#c85c66"/>
<circle cx="317.60" cy="56.48" r="1.3" fill="#b02e3e"/>
<circle cx="357.20" cy="54.04" r="1.3" fill="#b02e3e"/>
<circle cx="317.60" cy="73.99" r="1.3" fill="#b02e3e"/>
<circle cx="357.20" cy="42.51" r="1.3" fill="#b02e3e"/>
<circle cx="317.60" cy="78.97" r="1.3" fill="#b02e3e"/>
<circle cx="357.20" cy="46.14" r="1.3" fill="#b02e3e"/>
<circle cx="317.60" cy="100.61" r="1.3" fill="#b02e3e"/>
<circle cx="357.20" cy="97.38" r="1.3" fill="#b02e3e"/>
<circle cx="317.60" cy="97.61" r="1.3" fill="#b02e3e"/>
<circle cx="357.20" cy="99.66" r="1.3" fill="#b02e3e"/>
<circle cx="317.60" cy="96.86" r="1.3" fill="#b02e3e"/>
<circle cx="357.20" cy="96.22" r="1.3" fill="#b02e3e"/>
<circle cx="317.60" cy="87.40" r="1.3" fill="#b02e3e"/>
<circle cx="357.20" cy="77.84" r="1.3" fill="#b02e3e"/>
<circle cx="317.60" cy="86.57" r="1.3" fill="#b02e3e"/>
<circle cx="357.20" cy="82.78" r="1.3" fill="#b02e3e"/>
<circle cx="317.60" cy="84.78" r="1.3" fill="#b02e3e"/>
<circle cx="357.20" cy="81.76" r="1.3" fill="#b02e3e"/>
<circle cx="317.60" cy="83.92" r="1.3" fill="#b02e3e"/>
<circle cx="357.20" cy="75.51" r="1.3" fill="#b02e3e"/>
<circle cx="317.60" cy="83.47" r="1.3" fill="#b02e3e"/>
<circle cx="357.20" cy="70.16" r="1.3" fill="#b02e3e"/>
<circle cx="317.60" cy="82.13" r="1.3" fill="#b02e3e"/>
<circle cx="357.20" cy="68.25" r="1.3" fill="#b02e3e"/>
<circle cx="317.60" cy="72.01" r="1.3" fill="#b02e3e"/>
<circle cx="357.20" cy="67.24" r="1.3" fill="#b02e3e"/>
<circle cx="317.60" cy="68.36" r="1.3" fill="#b02e3e"/>
<circle cx="357.20" cy="55.73" r="1.3" fill="#b02e3e"/>
<circle cx="317.60" cy="65.65" r="1.3" fill="#b02e3e"/>
<circle cx="357.20" cy="64.81" r="1.3" fill="#b02e3e"/>
<circle cx="317.60" cy="64.38" r="1.3" fill="#b02e3e"/>
<circle cx="357.20" cy="55.98" r="1.3" fill="#b02e3e"/>
<circle cx="317.60" cy="61.34" r="1.3" fill="#b02e3e"/>
<circle cx="357.20" cy="87.47" r="1.3" fill="#b02e3e"/>
<circle cx="317.60" cy="57.93" r="1.3" fill="#b02e3e"/>
<circle cx="357.20" cy="52.58" r="1.3" fill="#b02e3e"/>
<circle cx="317.60" cy="57.15" r="1.3" fill="#b02e3e"/>
<circle cx="357.20" cy="57.46" r="1.3" fill="#b02e3e"/>
<circle cx="317.60" cy="52.31" r="1.3" fill="#980c24"/>
<circle cx="357.20" cy="53.15" r="1.3" fill="#980c24"/>
<circle cx="317.60" cy="81.01" r="1.3" fill="#980c24"/>
<circle cx="357.20" cy="34.73" r="1.3" fill="#980c24"/>
<circle cx="317.60" cy="105.89" r="1.3" fill="#980c24"/>
<circle cx="357.20" cy="99.18" r="1.3" fill="#980c24"/>
<circle cx="317.60" cy="98.76" r="1.3" fill="#980c24"/>
<circle cx="357.20" cy="97.77" r="1.3" fill="#980c24"/>
<circle cx="317.60" cy="95.09" r="1.3" fill="#980c24"/>
<circle cx="357.20" cy="90.58" r="1.3" fill="#980c24"/>
<circle cx="317.60" cy="86.03" r="1.3" fill="#980c24"/>
<circle cx="357.20" cy="78.36" r="1.3" fill="#980c24"/>
<circle cx="317.60" cy="74.75" r="1.3" fill="#980c24"/>
<circle cx="357.20" cy="74.78" r="1.3" fill="#980c24"/>
<circle cx="317.60" cy="62.42" r="1.3" fill="#980c24"/>
<circle cx="357.20" cy="54.74" r="1.3" fill="#980c24"/>
<circle cx="317.60" cy="60.54" r="1.3" fill="#980c24"/>
<circle cx="357.20" cy="60.15" r="1.3" fill="#980c24"/>
<circle cx="317.60" cy="59.86" r="1.3" fill="#980c24"/>
<circle cx="357.20" cy="59.53" r="1.3" fill="#980c24"/>
<text x="370.10" y="26.00" font-size="8.3" textLength="22.8" lengthAdjust="spacingAndGlyphs" class="m">ICANS</text>
<line x1="370.10" y1="32.00" x2="378.50" y2="32.00" stroke="#ecbcc0" stroke-width="2.4"/>
<text x="381.00" y="34.30" font-size="8.0" class="h">0</text>
<line x1="370.10" y1="39.80" x2="378.50" y2="39.80" stroke="#dc8f96" stroke-width="2.4"/>
<text x="381.00" y="42.10" font-size="8.0" class="h">1</text>
<line x1="370.10" y1="47.60" x2="378.50" y2="47.60" stroke="#c85c66" stroke-width="2.4"/>
<text x="381.00" y="49.90" font-size="8.0" class="h">2</text>
<line x1="370.10" y1="55.40" x2="378.50" y2="55.40" stroke="#b02e3e" stroke-width="2.4"/>
<text x="381.00" y="57.70" font-size="8.0" class="h">3</text>
<line x1="370.10" y1="63.20" x2="378.50" y2="63.20" stroke="#980c24" stroke-width="2.4"/>
<text x="381.00" y="65.50" font-size="8.0" class="h">4</text>
<text x="407.50" y="15.80" font-size="11" font-weight="bold">D</text>
<line x1="430.40" y1="22.40" x2="430.40" y2="140.50" stroke="#111" stroke-width="1.2"/>
<line x1="427.40" y1="126.70" x2="430.40" y2="126.70" stroke="#111" stroke-width="1"/>
<text x="425.00" y="129.30" font-size="7.3" class="h" text-anchor="end">2</text>
<line x1="427.40" y1="106.60" x2="430.40" y2="106.60" stroke="#111" stroke-width="1"/>
<text x="425.00" y="109.20" font-size="7.3" class="h" text-anchor="end">3</text>
<line x1="427.40" y1="86.50" x2="430.40" y2="86.50" stroke="#111" stroke-width="1"/>
<text x="425.00" y="89.10" font-size="7.3" class="h" text-anchor="end">4</text>
<line x1="427.40" y1="66.40" x2="430.40" y2="66.40" stroke="#111" stroke-width="1"/>
<text x="425.00" y="69.00" font-size="7.3" class="h" text-anchor="end">5</text>
<line x1="427.40" y1="46.30" x2="430.40" y2="46.30" stroke="#111" stroke-width="1"/>
<text x="425.00" y="48.90" font-size="7.3" class="h" text-anchor="end">6</text>
<line x1="427.40" y1="26.20" x2="430.40" y2="26.20" stroke="#111" stroke-width="1"/>
<text x="425.00" y="28.80" font-size="7.3" class="h" text-anchor="end">7</text>
<line x1="430.00" y1="140.50" x2="512.00" y2="140.50" stroke="#111" stroke-width="1.2"/>
<line x1="454.00" y1="140.50" x2="454.00" y2="143.50" stroke="#111" stroke-width="1"/>
<text x="454.00" y="153.30" font-size="7.3" class="h" text-anchor="middle">0−1</text>
<line x1="490.00" y1="140.50" x2="490.00" y2="143.50" stroke="#111" stroke-width="1"/>
<text x="490.00" y="153.30" font-size="7.3" class="h" text-anchor="middle">2−4</text>
<text x="414.60" y="81.65" font-size="8.4" text-anchor="middle" textLength="80.7" lengthAdjust="spacingAndGlyphs" transform="rotate(-90 414.60 81.65)" class="t">Serum NfL-post (log) [pg/ml]</text>
<text x="470.65" y="166.50" font-size="8.8" text-anchor="middle" textLength="33.7" lengthAdjust="spacingAndGlyphs" class="u">ICANS grade</text>
<line x1="451.00" y1="21.85" x2="491.00" y2="21.85" stroke="#707070" stroke-width="1.9"/>
<text x="470.50" y="21.40" font-size="7.4" class="h" text-anchor="middle">**</text>
<rect x="442.50" y="86.30" width="22.00" height="20.00" fill="#a7c3dd" stroke="#555" stroke-width="1"/>
<circle cx="451.90" cy="56.30" r="1.1" fill="#0b4a8b"/>
<circle cx="452.90" cy="65.10" r="1.1" fill="#0b4a8b"/>
<circle cx="453.30" cy="70.30" r="1.1" fill="#0b4a8b"/>
<circle cx="452.30" cy="73.10" r="1.1" fill="#0b4a8b"/>
<circle cx="453.50" cy="74.50" r="1.1" fill="#0b4a8b"/>
<circle cx="451.00" cy="77.00" r="1.1" fill="#0b4a8b"/>
<circle cx="454.50" cy="78.00" r="1.1" fill="#0b4a8b"/>
<circle cx="452.30" cy="114.90" r="1.1" fill="#0b4a8b"/>
<circle cx="454.70" cy="116.00" r="1.1" fill="#0b4a8b"/>
<circle cx="457.10" cy="110.10" r="1.1" fill="#0b4a8b"/>
<circle cx="454.40" cy="123.70" r="1.1" fill="#0b4a8b"/>
<circle cx="454.70" cy="130.40" r="1.1" fill="#0b4a8b"/>
<circle cx="453.42" cy="78.25" r="1.1" fill="#0b4a8b"/>
<circle cx="451.90" cy="79.62" r="1.1" fill="#0b4a8b"/>
<circle cx="453.69" cy="79.95" r="1.1" fill="#0b4a8b"/>
<circle cx="453.40" cy="80.14" r="1.1" fill="#0b4a8b"/>
<circle cx="452.35" cy="81.83" r="1.1" fill="#0b4a8b"/>
<circle cx="451.94" cy="80.90" r="1.1" fill="#0b4a8b"/>
<circle cx="453.52" cy="82.35" r="1.1" fill="#0b4a8b"/>
<circle cx="454.63" cy="83.29" r="1.1" fill="#0b4a8b"/>
<circle cx="453.65" cy="82.90" r="1.1" fill="#0b4a8b"/>
<circle cx="454.21" cy="85.44" r="1.1" fill="#0b4a8b"/>
<circle cx="454.36" cy="85.88" r="1.1" fill="#0b4a8b"/>
<circle cx="454.86" cy="85.36" r="1.1" fill="#0b4a8b"/>
<circle cx="453.54" cy="87.05" r="1.1" fill="#0b4a8b"/>
<circle cx="453.54" cy="88.29" r="1.1" fill="#0b4a8b"/>
<circle cx="454.05" cy="87.70" r="1.1" fill="#0b4a8b"/>
<circle cx="456.00" cy="89.77" r="1.1" fill="#0b4a8b"/>
<circle cx="454.59" cy="89.33" r="1.1" fill="#0b4a8b"/>
<circle cx="453.23" cy="90.85" r="1.1" fill="#0b4a8b"/>
<circle cx="454.78" cy="90.63" r="1.1" fill="#0b4a8b"/>
<circle cx="453.00" cy="92.89" r="1.1" fill="#0b4a8b"/>
<circle cx="453.24" cy="93.48" r="1.1" fill="#0b4a8b"/>
<circle cx="454.31" cy="92.76" r="1.1" fill="#0b4a8b"/>
<circle cx="454.20" cy="93.45" r="1.1" fill="#0b4a8b"/>
<circle cx="453.80" cy="95.10" r="1.1" fill="#0b4a8b"/>
<circle cx="453.14" cy="94.64" r="1.1" fill="#0b4a8b"/>
<circle cx="452.77" cy="95.99" r="1.1" fill="#0b4a8b"/>
<circle cx="452.72" cy="97.74" r="1.1" fill="#0b4a8b"/>
<circle cx="453.59" cy="97.80" r="1.1" fill="#0b4a8b"/>
<circle cx="455.79" cy="98.98" r="1.1" fill="#0b4a8b"/>
<circle cx="454.36" cy="98.35" r="1.1" fill="#0b4a8b"/>
<circle cx="453.60" cy="100.54" r="1.1" fill="#0b4a8b"/>
<circle cx="453.36" cy="101.35" r="1.1" fill="#0b4a8b"/>
<circle cx="453.39" cy="101.24" r="1.1" fill="#0b4a8b"/>
<circle cx="453.44" cy="101.34" r="1.1" fill="#0b4a8b"/>
<circle cx="454.07" cy="102.34" r="1.1" fill="#0b4a8b"/>
<circle cx="453.33" cy="104.23" r="1.1" fill="#0b4a8b"/>
<circle cx="454.27" cy="105.31" r="1.1" fill="#0b4a8b"/>
<circle cx="453.21" cy="104.89" r="1.1" fill="#0b4a8b"/>
<circle cx="453.57" cy="105.97" r="1.1" fill="#0b4a8b"/>
<circle cx="453.08" cy="107.15" r="1.1" fill="#0b4a8b"/>
<circle cx="453.66" cy="107.98" r="1.1" fill="#0b4a8b"/>
<circle cx="453.31" cy="109.01" r="1.1" fill="#0b4a8b"/>
<circle cx="452.83" cy="108.04" r="1.1" fill="#0b4a8b"/>
<circle cx="454.54" cy="110.43" r="1.1" fill="#0b4a8b"/>
<circle cx="454.50" cy="110.01" r="1.1" fill="#0b4a8b"/>
<circle cx="452.98" cy="110.69" r="1.1" fill="#0b4a8b"/>
<circle cx="453.66" cy="111.43" r="1.1" fill="#0b4a8b"/>
<circle cx="453.83" cy="111.83" r="1.1" fill="#0b4a8b"/>
<circle cx="454.03" cy="113.64" r="1.1" fill="#0b4a8b"/>
<circle cx="453.49" cy="113.10" r="1.1" fill="#0b4a8b"/>
<line x1="453.50" y1="77.60" x2="453.50" y2="112.10" stroke="#111" stroke-width="1"/>
<line x1="447.30" y1="77.60" x2="460.30" y2="77.60" stroke="#3a3a3a" stroke-width="1.2"/>
<line x1="447.30" y1="112.10" x2="460.30" y2="112.10" stroke="#3a3a3a" stroke-width="1.2"/>
<line x1="438.00" y1="99.50" x2="469.10" y2="99.50" stroke="#444" stroke-width="1.1"/>
<rect x="479.20" y="62.50" width="22.10" height="34.10" fill="#ebb6c1" stroke="#555" stroke-width="1"/>
<circle cx="489.40" cy="31.30" r="1.05" fill="#c8102e"/>
<circle cx="491.10" cy="42.80" r="1.05" fill="#c8102e"/>
<circle cx="490.10" cy="48.50" r="1.05" fill="#c8102e"/>
<circle cx="487.30" cy="56.50" r="1.05" fill="#c8102e"/>
<circle cx="491.10" cy="57.90" r="1.05" fill="#c8102e"/>
<circle cx="489.00" cy="60.70" r="1.05" fill="#c8102e"/>
<circle cx="489.70" cy="67.00" r="1.05" fill="#c8102e"/>
<circle cx="489.70" cy="69.10" r="1.05" fill="#c8102e"/>
<circle cx="491.50" cy="70.90" r="1.05" fill="#c8102e"/>
<circle cx="492.10" cy="74.00" r="1.05" fill="#c8102e"/>
<circle cx="492.50" cy="74.90" r="1.05" fill="#c8102e"/>
<circle cx="489.70" cy="77.00" r="1.05" fill="#c8102e"/>
<circle cx="494.60" cy="82.90" r="1.05" fill="#c8102e"/>
<circle cx="489.70" cy="86.10" r="1.05" fill="#c8102e"/>
<circle cx="492.50" cy="85.70" r="1.05" fill="#c8102e"/>
<circle cx="491.10" cy="90.00" r="1.05" fill="#c8102e"/>
<circle cx="492.20" cy="94.20" r="1.05" fill="#c8102e"/>
<circle cx="488.30" cy="98.00" r="1.05" fill="#c8102e"/>
<circle cx="488.70" cy="99.00" r="1.05" fill="#c8102e"/>
<circle cx="489.40" cy="104.00" r="1.05" fill="#c8102e"/>
<circle cx="492.50" cy="102.50" r="1.05" fill="#c8102e"/>
<circle cx="493.90" cy="109.90" r="1.05" fill="#c8102e"/>
<circle cx="488.30" cy="116.90" r="1.05" fill="#c8102e"/>
<line x1="490.30" y1="49.30" x2="490.30" y2="103.30" stroke="#111" stroke-width="1"/>
<line x1="483.80" y1="49.30" x2="496.70" y2="49.30" stroke="#3a3a3a" stroke-width="1.2"/>
<line x1="483.80" y1="103.30" x2="496.70" y2="103.30" stroke="#3a3a3a" stroke-width="1.2"/>
<line x1="474.90" y1="80.10" x2="505.70" y2="80.10" stroke="#444" stroke-width="1.1"/>
<text x="5.80" y="193.00" font-size="11" font-weight="bold">E</text>
<line x1="31.10" y1="199.20" x2="31.10" y2="322.90" stroke="#111" stroke-width="1.2"/>
<line x1="28.10" y1="311.60" x2="31.10" y2="311.60" stroke="#111" stroke-width="1"/>
<text x="25.70" y="314.20" font-size="7.3" class="h" text-anchor="end">2</text>
<line x1="28.10" y1="268.10" x2="31.10" y2="268.10" stroke="#111" stroke-width="1"/>
<text x="25.70" y="270.70" font-size="7.3" class="h" text-anchor="end">4</text>
<line x1="28.10" y1="224.60" x2="31.10" y2="224.60" stroke="#111" stroke-width="1"/>
<text x="25.70" y="227.20" font-size="7.3" class="h" text-anchor="end">6</text>
<line x1="30.60" y1="322.90" x2="132.50" y2="322.90" stroke="#111" stroke-width="1.2"/>
<line x1="36.90" y1="322.90" x2="36.90" y2="325.90" stroke="#111" stroke-width="1"/>
<text x="36.90" y="335.10" font-size="7.3" class="h" text-anchor="middle">0</text>
<line x1="60.05" y1="322.90" x2="60.05" y2="325.90" stroke="#111" stroke-width="1"/>
<text x="60.05" y="335.10" font-size="7.3" class="h" text-anchor="middle">1</text>
<line x1="83.20" y1="322.90" x2="83.20" y2="325.90" stroke="#111" stroke-width="1"/>
<text x="83.20" y="335.10" font-size="7.3" class="h" text-anchor="middle">2</text>
<line x1="106.35" y1="322.90" x2="106.35" y2="325.90" stroke="#111" stroke-width="1"/>
<text x="106.35" y="335.10" font-size="7.3" class="h" text-anchor="middle">3</text>
<line x1="129.50" y1="322.90" x2="129.50" y2="325.90" stroke="#111" stroke-width="1"/>
<text x="129.50" y="335.10" font-size="7.3" class="h" text-anchor="middle">4</text>
<text x="15.40" y="263.30" font-size="8.4" text-anchor="middle" textLength="82.6" lengthAdjust="spacingAndGlyphs" transform="rotate(-90 15.40 263.30)" class="t">Serum NfL-post (log) [pg/ml]</text>
<text x="82.00" y="347.30" font-size="8.8" text-anchor="middle" textLength="34.0" lengthAdjust="spacingAndGlyphs" class="u">ICANS grade</text>
<text x="131.30" y="316.70" font-size="8.3" class="h" text-anchor="end" textLength="27.2" lengthAdjust="spacingAndGlyphs"><tspan font-style="italic">P</tspan> &lt; .001</text>
<circle cx="36.90" cy="236.00" r="1.1" fill="#0b4a8b"/>
<circle cx="36.90" cy="251.40" r="1.1" fill="#0b4a8b"/>
<circle cx="36.90" cy="254.00" r="1.1" fill="#0b4a8b"/>
<circle cx="36.90" cy="256.50" r="1.1" fill="#0b4a8b"/>
<circle cx="36.90" cy="259.00" r="1.1" fill="#0b4a8b"/>
<circle cx="36.90" cy="261.50" r="1.1" fill="#0b4a8b"/>
<circle cx="36.90" cy="264.00" r="1.1" fill="#0b4a8b"/>
<circle cx="36.90" cy="266.50" r="1.1" fill="#0b4a8b"/>
<circle cx="36.90" cy="268.00" r="1.1" fill="#0b4a8b"/>
<circle cx="36.90" cy="269.30" r="1.1" fill="#0b4a8b"/>
<circle cx="36.90" cy="270.60" r="1.1" fill="#0b4a8b"/>
<circle cx="36.90" cy="271.90" r="1.1" fill="#0b4a8b"/>
<circle cx="36.90" cy="273.20" r="1.1" fill="#0b4a8b"/>
<circle cx="36.90" cy="274.50" r="1.1" fill="#0b4a8b"/>
<circle cx="36.90" cy="275.80" r="1.1" fill="#0b4a8b"/>
<circle cx="36.90" cy="277.10" r="1.1" fill="#0b4a8b"/>
<circle cx="36.90" cy="278.40" r="1.1" fill="#0b4a8b"/>
<circle cx="36.90" cy="279.70" r="1.1" fill="#0b4a8b"/>
<circle cx="36.90" cy="281.00" r="1.1" fill="#0b4a8b"/>
<circle cx="36.90" cy="282.30" r="1.1" fill="#0b4a8b"/>
<circle cx="36.90" cy="283.60" r="1.1" fill="#0b4a8b"/>
<circle cx="36.90" cy="284.90" r="1.1" fill="#0b4a8b"/>
<circle cx="36.90" cy="286.20" r="1.1" fill="#0b4a8b"/>
<circle cx="36.90" cy="287.50" r="1.1" fill="#0b4a8b"/>
<circle cx="36.90" cy="288.80" r="1.1" fill="#0b4a8b"/>
<circle cx="36.90" cy="290.10" r="1.1" fill="#0b4a8b"/>
<circle cx="36.90" cy="291.40" r="1.1" fill="#0b4a8b"/>
<circle cx="36.90" cy="292.70" r="1.1" fill="#0b4a8b"/>
<circle cx="36.90" cy="294.00" r="1.1" fill="#0b4a8b"/>
<circle cx="36.90" cy="295.30" r="1.1" fill="#0b4a8b"/>
<circle cx="36.90" cy="296.60" r="1.1" fill="#0b4a8b"/>
<circle cx="36.90" cy="297.90" r="1.1" fill="#0b4a8b"/>
<circle cx="36.90" cy="299.20" r="1.1" fill="#0b4a8b"/>
<circle cx="36.90" cy="300.50" r="1.1" fill="#0b4a8b"/>
<circle cx="36.90" cy="308.60" r="1.1" fill="#0b4a8b"/>
<circle cx="36.90" cy="316.60" r="1.1" fill="#0b4a8b"/>
<circle cx="60.05" cy="245.40" r="1.1" fill="#0b4a8b"/>
<circle cx="60.05" cy="255.50" r="1.1" fill="#0b4a8b"/>
<circle cx="60.05" cy="258.50" r="1.1" fill="#0b4a8b"/>
<circle cx="60.05" cy="262.30" r="1.1" fill="#0b4a8b"/>
<circle cx="60.05" cy="266.00" r="1.1" fill="#0b4a8b"/>
<circle cx="60.05" cy="270.00" r="1.1" fill="#0b4a8b"/>
<circle cx="60.05" cy="273.60" r="1.1" fill="#0b4a8b"/>
<circle cx="60.05" cy="276.50" r="1.1" fill="#0b4a8b"/>
<circle cx="60.05" cy="279.60" r="1.1" fill="#0b4a8b"/>
<circle cx="60.05" cy="283.50" r="1.1" fill="#0b4a8b"/>
<circle cx="60.05" cy="290.00" r="1.1" fill="#0b4a8b"/>
<circle cx="60.05" cy="292.50" r="1.1" fill="#0b4a8b"/>
<circle cx="83.20" cy="209.10" r="1.1" fill="#0b4a8b"/>
<circle cx="83.20" cy="220.90" r="1.1" fill="#0b4a8b"/>
<circle cx="83.20" cy="236.30" r="1.1" fill="#0b4a8b"/>
<circle cx="83.20" cy="238.20" r="1.1" fill="#0b4a8b"/>
<circle cx="83.20" cy="258.90" r="1.1" fill="#0b4a8b"/>
<circle cx="83.20" cy="265.50" r="1.1" fill="#0b4a8b"/>
<circle cx="83.20" cy="268.00" r="1.1" fill="#0b4a8b"/>
<circle cx="83.20" cy="271.40" r="1.1" fill="#0b4a8b"/>
<circle cx="83.20" cy="276.00" r="1.1" fill="#0b4a8b"/>
<circle cx="83.20" cy="279.60" r="1.1" fill="#0b4a8b"/>
<circle cx="83.20" cy="294.20" r="1.1" fill="#0b4a8b"/>
<circle cx="106.35" cy="247.80" r="1.1" fill="#0b4a8b"/>
<circle cx="106.35" cy="250.00" r="1.1" fill="#0b4a8b"/>
<circle cx="106.35" cy="252.70" r="1.1" fill="#0b4a8b"/>
<circle cx="106.35" cy="256.50" r="1.1" fill="#0b4a8b"/>
<circle cx="106.35" cy="268.30" r="1.1" fill="#0b4a8b"/>
<circle cx="106.35" cy="282.40" r="1.1" fill="#0b4a8b"/>
<circle cx="106.35" cy="285.80" r="1.1" fill="#0b4a8b"/>
<circle cx="106.35" cy="288.00" r="1.1" fill="#0b4a8b"/>
<circle cx="129.50" cy="227.60" r="1.1" fill="#0b4a8b"/>
<circle cx="129.50" cy="241.00" r="1.1" fill="#0b4a8b"/>
<circle cx="129.50" cy="252.10" r="1.1" fill="#0b4a8b"/>
<circle cx="129.50" cy="280.70" r="1.1" fill="#0b4a8b"/>
<circle cx="129.50" cy="301.90" r="1.1" fill="#0b4a8b"/>
<path d="M36.90,275.80 L39.99,275.21 L43.07,274.59 L46.16,273.95 L49.25,273.27 L52.33,272.56 L55.42,271.80 L58.51,271.00 L61.59,270.14 L64.68,269.21 L67.77,268.23 L70.85,267.19 L73.94,266.10 L77.03,264.97 L80.11,263.81 L83.20,262.62 L86.29,261.42 L89.37,260.20 L92.46,258.97 L95.55,257.72 L98.63,256.47 L101.72,255.21 L104.81,253.95 L107.89,252.68 L110.98,251.40 L114.07,250.13 L117.15,248.85 L120.24,247.56 L123.33,246.28 L126.41,244.99 L129.50,243.70 L129.50,264.90 L126.41,265.32 L123.33,265.75 L120.24,266.18 L117.15,266.61 L114.07,267.04 L110.98,267.48 L107.89,267.92 L104.81,268.36 L101.72,268.81 L98.63,269.26 L95.55,269.72 L92.46,270.19 L89.37,270.67 L86.29,271.17 L83.20,271.68 L80.11,272.21 L77.03,272.76 L73.94,273.34 L70.85,273.97 L67.77,274.64 L64.68,275.37 L61.59,276.16 L58.51,277.01 L55.42,277.92 L52.33,278.87 L49.25,279.87 L46.16,280.91 L43.07,281.98 L39.99,283.08 L36.90,284.20 Z" fill="#e9a6b3" fill-opacity="0.75"/>
<line x1="36.90" y1="280.00" x2="129.50" y2="254.30" stroke="#c8102e" stroke-width="1.4"/>
<text x="182.70" y="193.00" font-size="11" font-weight="bold">F</text>
<text x="273.75" y="196.80" font-size="9" text-anchor="middle" textLength="77.5" lengthAdjust="spacingAndGlyphs">ICANS 0−1 vs. 2−4</text>
<line x1="212.50" y1="199.10" x2="212.50" y2="322.60" stroke="#111" stroke-width="1.2"/>
<line x1="209.50" y1="318.30" x2="212.50" y2="318.30" stroke="#111" stroke-width="1"/>
<text x="207.10" y="320.90" font-size="7.3" class="h" text-anchor="end">0.0</text>
<line x1="209.50" y1="295.54" x2="212.50" y2="295.54" stroke="#111" stroke-width="1"/>
<text x="207.10" y="298.14" font-size="7.3" class="h" text-anchor="end">0.2</text>
<line x1="209.50" y1="272.78" x2="212.50" y2="272.78" stroke="#111" stroke-width="1"/>
<text x="207.10" y="275.38" font-size="7.3" class="h" text-anchor="end">0.4</text>
<line x1="209.50" y1="250.02" x2="212.50" y2="250.02" stroke="#111" stroke-width="1"/>
<text x="207.10" y="252.62" font-size="7.3" class="h" text-anchor="end">0.6</text>
<line x1="209.50" y1="227.26" x2="212.50" y2="227.26" stroke="#111" stroke-width="1"/>
<text x="207.10" y="229.86" font-size="7.3" class="h" text-anchor="end">0.8</text>
<line x1="209.50" y1="204.50" x2="212.50" y2="204.50" stroke="#111" stroke-width="1"/>
<text x="207.10" y="207.10" font-size="7.3" class="h" text-anchor="end">1.0</text>
<line x1="211.00" y1="322.60" x2="335.50" y2="322.60" stroke="#111" stroke-width="1.2"/>
<line x1="216.20" y1="322.60" x2="216.20" y2="325.60" stroke="#111" stroke-width="1"/>
<text x="216.20" y="335.30" font-size="7.3" class="h" text-anchor="middle">0.0</text>
<line x1="238.98" y1="322.60" x2="238.98" y2="325.60" stroke="#111" stroke-width="1"/>
<text x="238.98" y="335.30" font-size="7.3" class="h" text-anchor="middle">0.2</text>
<line x1="261.76" y1="322.60" x2="261.76" y2="325.60" stroke="#111" stroke-width="1"/>
<text x="261.76" y="335.30" font-size="7.3" class="h" text-anchor="middle">0.4</text>
<line x1="284.54" y1="322.60" x2="284.54" y2="325.60" stroke="#111" stroke-width="1"/>
<text x="284.54" y="335.30" font-size="7.3" class="h" text-anchor="middle">0.6</text>
<line x1="307.32" y1="322.60" x2="307.32" y2="325.60" stroke="#111" stroke-width="1"/>
<text x="307.32" y="335.30" font-size="7.3" class="h" text-anchor="middle">0.8</text>
<line x1="330.10" y1="322.60" x2="330.10" y2="325.60" stroke="#111" stroke-width="1"/>
<text x="330.10" y="335.30" font-size="7.3" class="h" text-anchor="middle">1.0</text>
<text x="190.20" y="263.00" font-size="8.4" text-anchor="middle" textLength="49.7" lengthAdjust="spacingAndGlyphs" transform="rotate(-90 190.20 263.00)" class="t">True positive rate</text>
<text x="274.00" y="347.20" font-size="8.8" text-anchor="middle" textLength="50.5" lengthAdjust="spacingAndGlyphs" class="u">False positive rate</text>
<line x1="216.20" y1="318.30" x2="330.10" y2="204.50" stroke="#a9b1b6" stroke-width="0.9"/>
<path d="M216.6,317.6 L216.6,311.4 L222.1,311.4 L222.1,300.7 L227.1,300.7 L227.1,288.6 L232.1,288.6 L232.1,271.4 L236.4,271.4 L236.4,270.2 L242.5,270.2 L242.5,253.4 L250.2,253.4 L250.2,252.5 L252.6,252.5 L252.6,244.4 L257.9,244.4 L257.9,241.5 L263.4,241.5 L263.4,239.7 L273.2,239.7 L273.2,218.5 L278.5,218.5 L278.5,216.6 L288.9,216.6 L288.9,215.2 L293.8,215.2 L293.8,209.1 L299.7,209.1 L299.7,207.4 L304.6,207.4 L304.6,204.4 L330.1,204.4" fill="none" stroke="#d2354f" stroke-width="1.2"/>
<text x="334.20" y="309.10" font-size="7.9" text-anchor="end" textLength="70.4" lengthAdjust="spacingAndGlyphs">Area under the curve:</text>
<text x="334.20" y="318.30" font-size="7.9" text-anchor="end" textLength="57.6" lengthAdjust="spacingAndGlyphs">0.71 [0.58−0.84]</text>
<text x="374.30" y="193.20" font-size="11" font-weight="bold">G</text>
<rect x="419.40" y="205.10" width="47.70" height="16.60" fill="#eec4cc" stroke="none" stroke-width="1"/>
<text x="443.30" y="216.10" font-size="8.0" text-anchor="middle" textLength="35.4" lengthAdjust="spacingAndGlyphs" fill="#222" class="g">Serum NfL</text>
<rect x="375.30" y="306.00" width="33.20" height="16.60" fill="#eec4cc" stroke="none" stroke-width="1"/>
<text x="391.95" y="316.50" font-size="8.0" text-anchor="middle" textLength="16.1" lengthAdjust="spacingAndGlyphs" fill="#222" class="g">CRS</text>
<rect x="478.20" y="306.00" width="33.00" height="16.60" fill="#eec4cc" stroke="none" stroke-width="1"/>
<text x="494.50" y="316.50" font-size="8.0" text-anchor="middle" textLength="23" lengthAdjust="spacingAndGlyphs" fill="#222" class="g">ICANS</text>
<line x1="393.10" y1="305.40" x2="430.67" y2="226.27" stroke="#111" stroke-width="1"/>
<path d="M432.60,222.20 L432.44,227.66 L428.47,225.77 Z" fill="#111"/>
<line x1="458.50" y1="221.70" x2="496.07" y2="301.03" stroke="#111" stroke-width="1"/>
<path d="M498.00,305.10 L493.87,301.52 L497.85,299.64 Z" fill="#111"/>
<line x1="408.50" y1="314.50" x2="472.90" y2="314.50" stroke="#111" stroke-width="1"/>
<path d="M477.40,314.50 L472.40,316.70 L472.40,312.30 Z" fill="#111"/>
<text x="441.80" y="310.30" font-size="8.0" text-anchor="middle" textLength="60.2" lengthAdjust="spacingAndGlyphs" class="g">c = 0.86, <tspan font-style="italic">P</tspan> &lt; .001</text>
<text x="441.95" y="324.60" font-size="8.0" text-anchor="middle" textLength="60.5" lengthAdjust="spacingAndGlyphs" class="g">c' = 0.82, <tspan font-style="italic">P</tspan> &lt; .001</text>
<text x="444.50" y="283.40" font-size="8.0" text-anchor="middle" textLength="69" lengthAdjust="spacingAndGlyphs" class="g">Indirect effect = 0.24</text>
<text x="444.75" y="292.70" font-size="8.0" text-anchor="middle" textLength="20.7" lengthAdjust="spacingAndGlyphs" class="g">[28%]</text>
<text x="408.90" y="265.00" font-size="8.0" text-anchor="middle" textLength="54" lengthAdjust="spacingAndGlyphs" transform="rotate(-64.7 408.90 265.00)" class="g">a = 0.26, <tspan font-style="italic">P</tspan> = .01</text>
<text x="482.30" y="265.00" font-size="8.0" text-anchor="middle" textLength="60" lengthAdjust="spacingAndGlyphs" transform="rotate(64.7 482.30 265.00)" class="g">b = 0.91, <tspan font-style="italic">P</tspan> &lt; .001</text>
<rect x="2.5" y="2.5" width="515" height="352" fill="none" stroke="#ececec" stroke-width="1"/>
<rect x="1.5" y="1.5" width="517" height="354" fill="none" stroke="#8a8a8a" stroke-width="1"/>
<rect x="0.5" y="0.5" width="519" height="356" fill="none" stroke="#000" stroke-width="1"/></svg>

</body></html>
